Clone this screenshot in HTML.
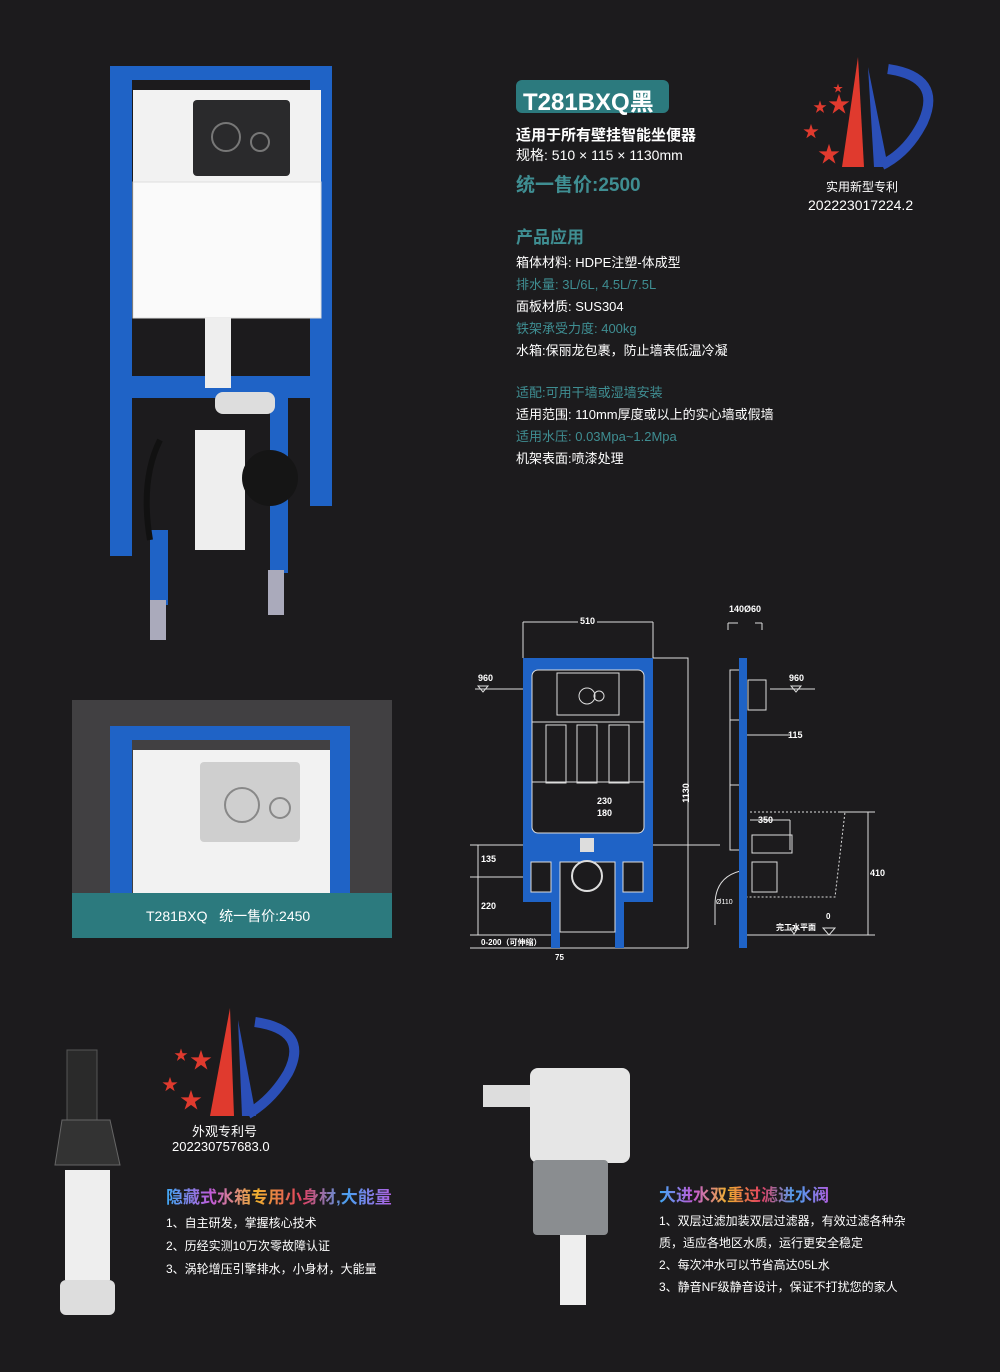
<!DOCTYPE html>
<html><head><meta charset="utf-8"><style>
body{margin:0;background:#1c1b1d;}
#p{position:relative;width:1000px;height:1372px;background:#1c1b1d;overflow:hidden;font-family:"Liberation Sans","Noto Sans CJK SC",sans-serif;color:#fff;}
.t{position:absolute;white-space:nowrap;}
.tl{color:#3f8e92;}
.g{background:linear-gradient(90deg,#3fa9f5,#c05ad8,#f0b030,#e04060,#4aa0f0,#b060e0);-webkit-background-clip:text;background-clip:text;color:transparent;font-weight:bold;}
</style></head><body><div id="p">
<svg width="1000" height="1372" style="position:absolute;left:0;top:0">
<!-- main product -->
<rect x="110" y="66" width="222" height="14" fill="#1f63c6"/>
<rect x="110" y="66" width="22" height="490" fill="#1f63c6"/>
<rect x="310" y="66" width="22" height="440" fill="#1f63c6"/>
<rect x="110" y="376" width="210" height="22" fill="#1f63c6"/>
<rect x="270" y="398" width="18" height="175" fill="#1f63c6"/>
<rect x="150" y="530" width="18" height="75" fill="#1f63c6"/>
<rect x="150" y="600" width="16" height="40" fill="#aab"/>
<rect x="268" y="570" width="16" height="45" fill="#aab"/>
<rect x="133" y="90" width="188" height="228" fill="#f2f2f2"/>
<rect x="133" y="182" width="188" height="136" fill="#fafafa" stroke="#ddd"/>
<rect x="193" y="100" width="97" height="76" rx="4" fill="#2a2a2c"/>
<circle cx="226" cy="137" r="14" fill="none" stroke="#777" stroke-width="2"/>
<circle cx="260" cy="142" r="9" fill="none" stroke="#777" stroke-width="2"/>
<rect x="205" y="318" width="26" height="70" fill="#eee"/>
<rect x="195" y="430" width="50" height="120" fill="#eee"/>
<circle cx="270" cy="478" r="28" fill="#151515"/>
<rect x="215" y="392" width="60" height="22" rx="8" fill="#ddd"/>
<path d="M160 440 q-20 40 -10 100" stroke="#111" stroke-width="6" fill="none"/>
<!-- second product box -->
<rect x="72" y="700" width="320" height="238" fill="#414042"/>
<rect x="110" y="726" width="240" height="14" fill="#1f63c6"/>
<rect x="110" y="726" width="22" height="170" fill="#1f63c6"/>
<rect x="330" y="726" width="20" height="170" fill="#1f63c6"/>
<rect x="133" y="750" width="197" height="145" fill="#f2f2f2"/>
<rect x="200" y="762" width="100" height="80" rx="4" fill="#cfcfcf"/>
<circle cx="242" cy="805" r="17" fill="none" stroke="#888" stroke-width="2"/>
<circle cx="280" cy="808" r="10" fill="none" stroke="#888" stroke-width="2"/>
<rect x="72" y="893" width="320" height="45" fill="#2c7a7e"/>
<!-- drawing front -->
<g stroke="#ddd" stroke-width="1" fill="none">
<path d="M523 622 H578 M597 622 H653 M523 622 V658 M653 622 V658"/>
<path d="M653 658 H688 V948 M475 689 H552"/>
<path d="M470 845 H720 M470 877 H610 M470 935 H560 M478 845 V935"/>
<path d="M470 948 H688"/>
</g>
<path d="M523 658 H653 V902 H624 V948 H615 V900 H560 V948 H551 V902 H523 Z" fill="#1f63c6"/>
<rect x="532" y="670" width="112" height="163" rx="6" fill="#1c1b1d" stroke="#ddd"/>
<rect x="532" y="722" width="112" height="60" fill="#1c1b1d" stroke="#ddd"/>
<rect x="546" y="725" width="20" height="58" fill="none" stroke="#ddd"/>
<rect x="577" y="725" width="20" height="58" fill="none" stroke="#ddd"/>
<rect x="609" y="725" width="20" height="58" fill="none" stroke="#ddd"/>
<rect x="557" y="673" width="62" height="42" fill="none" stroke="#ddd"/>
<circle cx="587" cy="696" r="8" fill="none" stroke="#ddd"/><circle cx="599" cy="696" r="5" fill="none" stroke="#ddd"/>
<rect x="531" y="862" width="20" height="30" fill="#1c1b1d" stroke="#ddd"/>
<rect x="623" y="862" width="20" height="30" fill="#1c1b1d" stroke="#ddd"/>
<rect x="560" y="862" width="55" height="70" fill="#1c1b1d" stroke="#ddd"/>
<circle cx="587" cy="876" r="15" fill="#1c1b1d" stroke="#ddd" stroke-width="2"/>
<rect x="580" y="838" width="14" height="14" fill="#ddd"/>
<!-- side view -->
<g stroke="#ddd" fill="none">
<path d="M728 623 V630 M762 623 V630 M728 623 H738 M755 623 H762"/>
<path d="M730 670 h15 v115 h-15 z M730 720 h12 v130 h-12 z"/>
<rect x="748" y="680" width="18" height="30"/>
<path d="M770 689 H815 M745 735 H790 M750 820 H790 M790 820 V850"/>
<path d="M750 812 H845 L835 897 H746" stroke-dasharray="2 2"/>
<path d="M838 812 H875 M868 812 V935 M740 935 H875"/>
<path d="M715 905 q0 -30 30 -35 M715 905 V925"/>
<rect x="752" y="835" width="40" height="18"/><rect x="752" y="862" width="25" height="30"/>
</g>
<rect x="739" y="658" width="8" height="290" fill="#1f63c6"/>
<path d="M790 928 l8 0 l-4 6 z M823 928 l12 0 l-6 7 z M478 686 l10 0 l-5 6 z M791 686 l10 0 l-5 6z" stroke="#ddd" fill="none"/>
<!-- logos -->
<g transform="translate(798,57)">
<path d="M60 0 L44 110 L66 110 Z" fill="#e03a2e"/>
<path d="M70 10 L90 110 L76 110 Z" fill="#2b4fb8"/>
<path d="M90 12 Q145 20 125 65 Q110 95 84 108" stroke="#2b4fb8" stroke-width="10" fill="none"/>
<text x="30" y="55" fill="#e03a2e" font-size="22">★</text><text x="5" y="80" fill="#e03a2e" font-size="16">★</text><text x="20" y="105" fill="#e03a2e" font-size="22">★</text><text x="15" y="55" fill="#e03a2e" font-size="14">★</text><text x="35" y="35" fill="#e03a2e" font-size="10">★</text>
</g>
<g transform="translate(160,1008)">
<path d="M70 0 L50 108 L74 108 Z" fill="#e03a2e"/>
<path d="M78 12 L96 108 L82 108 Z" fill="#2b4fb8"/>
<path d="M95 14 Q150 22 128 65 Q112 92 88 106" stroke="#2b4fb8" stroke-width="10" fill="none"/>
<text x="30" y="60" fill="#e03a2e" font-size="22">★</text><text x="2" y="82" fill="#e03a2e" font-size="16">★</text><text x="20" y="100" fill="#e03a2e" font-size="22">★</text><text x="14" y="52" fill="#e03a2e" font-size="14">★</text>
</g>
<!-- flush valve -->
<rect x="67" y="1050" width="30" height="70" fill="#2a2a2a" stroke="#555"/>
<path d="M55 1165 L120 1165 L110 1120 L62 1120 Z" fill="#333" stroke="#666"/>
<rect x="65" y="1170" width="45" height="110" fill="#eee"/>
<rect x="60" y="1280" width="55" height="35" rx="6" fill="#ddd"/>
<!-- fill valve -->
<rect x="483" y="1085" width="55" height="22" fill="#ddd"/>
<rect x="530" y="1068" width="100" height="95" rx="8" fill="#e6e6e6"/>
<rect x="533" y="1160" width="75" height="75" rx="4" fill="#8a8d90"/>
<rect x="560" y="1235" width="26" height="70" fill="#eee"/>
</svg>
<div class="t" style="left:516px;top:80px;width:153px;height:33px;background:#2c7a7e;border-radius:6px;"></div>
<div class="t" style="left:523px;top:82px;font-size:24px;font-weight:bold;">T281BXQ黑</div>
<div class="t" style="left:516px;top:124px;font-size:15px;font-weight:bold;">适用于所有壁挂智能坐便器</div>
<div class="t" style="left:516px;top:145px;font-size:14px;">规格: 510 × 115 × 1130mm</div>
<div class="t tl" style="left:516px;top:170px;font-size:19px;font-weight:bold;">统一售价:2500</div>
<div class="t tl" style="left:516px;top:223px;font-size:17px;font-weight:bold;">产品应用</div>
<div class="t" style="left:516px;top:252px;font-size:13px;line-height:22px;">箱体材料: HDPE注塑-体成型<br><span class="tl">排水量: 3L/6L, 4.5L/7.5L</span><br>面板材质: SUS304<br><span class="tl">铁架承受力度: 400kg</span><br>水箱:保丽龙包裹，防止墙表低温冷凝</div>
<div class="t" style="left:516px;top:382px;font-size:13px;line-height:22px;"><span class="tl">适配:可用干墙或湿墙安装</span><br>适用范围: 110mm厚度或以上的实心墙或假墙<br><span class="tl">适用水压: 0.03Mpa~1.2Mpa</span><br>机架表面:喷漆处理</div>
<div class="t" style="left:826px;top:178px;font-size:12px;">实用新型专利</div>
<div class="t" style="left:808px;top:197px;font-size:14px;">202223017224.2</div>
<div class="t" style="left:146px;top:906px;font-size:14px;">T281BXQ &nbsp; 统一售价:2450</div>
<!-- drawing labels -->
<div class="t" style="left:580px;top:616px;font-size:9px;font-weight:bold;">510</div>
<div class="t" style="left:729px;top:604px;font-size:9px;font-weight:bold;">140Ø60</div>
<div class="t" style="left:478px;top:673px;font-size:9px;font-weight:bold;">960</div>
<div class="t" style="left:789px;top:673px;font-size:9px;font-weight:bold;">960</div>
<div class="t" style="left:788px;top:730px;font-size:9px;font-weight:bold;">115</div>
<div class="t" style="left:676px;top:788px;font-size:9px;font-weight:bold;transform:rotate(-90deg);">1130</div>
<div class="t" style="left:597px;top:796px;font-size:9px;font-weight:bold;">230</div>
<div class="t" style="left:597px;top:808px;font-size:9px;font-weight:bold;">180</div>
<div class="t" style="left:758px;top:815px;font-size:9px;font-weight:bold;">350</div>
<div class="t" style="left:870px;top:868px;font-size:9px;font-weight:bold;">410</div>
<div class="t" style="left:481px;top:854px;font-size:9px;font-weight:bold;">135</div>
<div class="t" style="left:481px;top:901px;font-size:9px;font-weight:bold;">220</div>
<div class="t" style="left:481px;top:937px;font-size:8px;font-weight:bold;">0-200（可伸缩）</div>
<div class="t" style="left:555px;top:953px;font-size:8px;font-weight:bold;">75</div>
<div class="t" style="left:716px;top:899px;font-size:7px;">Ø110</div>
<div class="t" style="left:776px;top:922px;font-size:8px;font-weight:bold;">完工水平面</div>
<div class="t" style="left:826px;top:912px;font-size:8px;font-weight:bold;">0</div>
<!-- bottom -->
<div class="t" style="left:192px;top:1121px;font-size:13px;">外观专利号</div>
<div class="t" style="left:172px;top:1139px;font-size:13px;">202230757683.0</div>
<div class="t g" style="left:166px;top:1183px;font-size:17px;">隐藏式水箱专用小身材,大能量</div>
<div class="t" style="left:166px;top:1212px;font-size:12px;line-height:23px;">1、自主研发，掌握核心技术<br>2、历经实测10万次零故障认证<br>3、涡轮增压引擎排水，小身材，大能量</div>
<div class="t g" style="left:659px;top:1181px;font-size:17px;">大进水双重过滤进水阀</div>
<div class="t" style="left:659px;top:1210px;font-size:12px;line-height:22px;">1、双层过滤加装双层过滤器，有效过滤各种杂<br>质，适应各地区水质，运行更安全稳定<br>2、每次冲水可以节省高达05L水<br>3、静音NF级静音设计，保证不打扰您的家人</div>
</div></body></html>
